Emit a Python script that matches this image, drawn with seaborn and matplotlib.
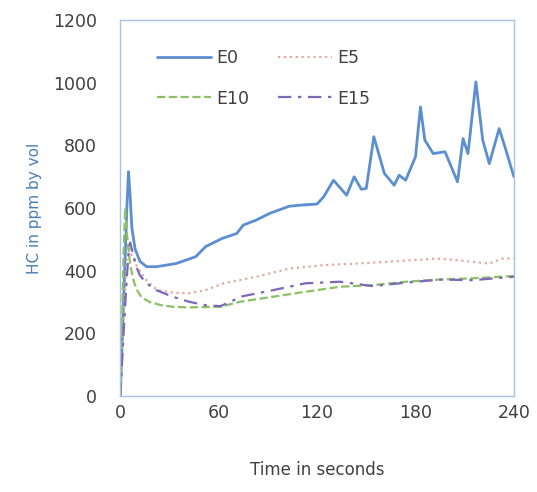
import numpy as np
import pandas as pd
import matplotlib
matplotlib.use("Agg")
import matplotlib.pyplot as plt
import seaborn as sns

# Tiempo (s) y HC (ppm)
t_e0 = [0, 2, 4, 5, 6, 7, 9, 12, 16, 22, 34, 46, 52, 62, 71, 75, 83, 91, 103, 111, 120,
        124, 130, 138, 142.6, 147, 150, 154.6, 161, 167, 170, 174, 180, 183, 185.7, 190.8,
        198, 205.6, 209, 212, 216.8, 221, 225, 231, 234.5, 240]
hc_e0 = [0, 300, 600, 716, 640, 540, 470, 430, 413, 413, 423, 445, 477, 503, 519, 546, 562,
         583, 606, 610, 613, 636, 689, 641, 700, 660, 663, 828, 711, 673, 705, 689, 764, 923,
         817, 774, 780, 684, 822, 774, 1003, 817, 742, 854, 796, 700]

t_e5 = [0, 2, 4, 5, 7, 10, 15, 22, 32, 42, 52, 63, 83, 103, 124, 144, 164, 185, 193, 205,
        225, 233, 240]
hc_e5 = [0, 250, 430, 480, 450, 415, 375, 340, 330, 328, 338, 360, 381, 407, 418, 423, 429,
         436, 439, 434, 423, 439, 439]

t_e10 = [0, 2, 3, 4, 6, 8, 10, 13, 18, 25, 32, 42, 61, 73, 93, 113, 134, 154, 174, 195,
         215, 240]
hc_e10 = [0, 450, 600, 520, 420, 370, 340, 315, 300, 290, 285, 283, 285, 301, 317, 333,
          349, 354, 365, 372, 376, 383]

t_e15 = [0, 2, 4, 5, 6, 8, 10, 12, 16, 22, 32, 42, 52, 61, 67, 73, 93, 113, 134, 154, 174,
         195, 215, 240]
hc_e15 = [0, 200, 380, 450, 490, 450, 410, 385, 360, 338, 317, 301, 290, 287, 300, 317,
          338, 360, 365, 351, 362, 372, 370, 381]

x_ticks = [0, 60, 120, 180, 240]
y_ticks = [0, 200, 400, 600, 800, 1000, 1200]


def main():
    sns.set_style("white")
    plt.rcParams['font.family'] = ['DejaVu Sans']
    text_color = '#404040'
    spine_color = '#a9c4e2'

    fig = plt.figure(figsize=(5.37, 4.92), dpi=100)
    ax = fig.add_axes([0.224, 0.195, 0.733, 0.764])

    series = [
        ('E0', t_e0, hc_e0, '#5b8fd0', '-', 2.0),
        ('E5', t_e5, hc_e5, '#e3a9a2', ':', 1.6),
        ('E10', t_e10, hc_e10, '#8cc063', '--', 1.6),
        ('E15', t_e15, hc_e15, '#7a68b8', (0, (6, 3, 1.5, 3)), 1.6),
    ]
    for name, t, hc, color, ls, lw in series:
        df = pd.DataFrame({'t': t, 'hc': hc})
        sns.lineplot(data=df, x='t', y='hc', ax=ax, color=color, linestyle=ls,
                     linewidth=lw, label=name)

    ax.set_xlim(0, 240)
    ax.set_ylim(0, 1200)
    ax.set_xticks(x_ticks)
    ax.set_yticks(y_ticks)
    ax.set_xlabel('Time in seconds', fontsize=12, color=text_color, labelpad=28)
    ax.set_ylabel('HC in ppm by vol', fontsize=11, color='#4a7fb5', labelpad=8)
    ax.tick_params(axis='both', labelsize=12.5, colors=spine_color, labelcolor=text_color)
    ax.tick_params(axis='y', direction='out', length=5, pad=12)
    ax.tick_params(axis='x', direction='inout', length=8, pad=2)
    for s in ax.spines.values():
        s.set_color(spine_color)
        s.set_linewidth(1.0)

    # orden para que E0/E5 queden en la primera fila
    handles, labels = ax.get_legend_handles_labels()
    order = [0, 2, 1, 3]
    leg = ax.legend([handles[i] for i in order], [labels[i] for i in order],
                    loc='upper left', ncol=2, frameon=False, fontsize=12.5,
                    handlelength=3.1, columnspacing=1.7, labelspacing=1.3,
                    handletextpad=0.3, bbox_to_anchor=(0.053, 0.965))
    for txt in leg.get_texts():
        txt.set_color(text_color)

    fig.savefig('out.png', dpi=100)


if __name__ == "__main__":
    main()
